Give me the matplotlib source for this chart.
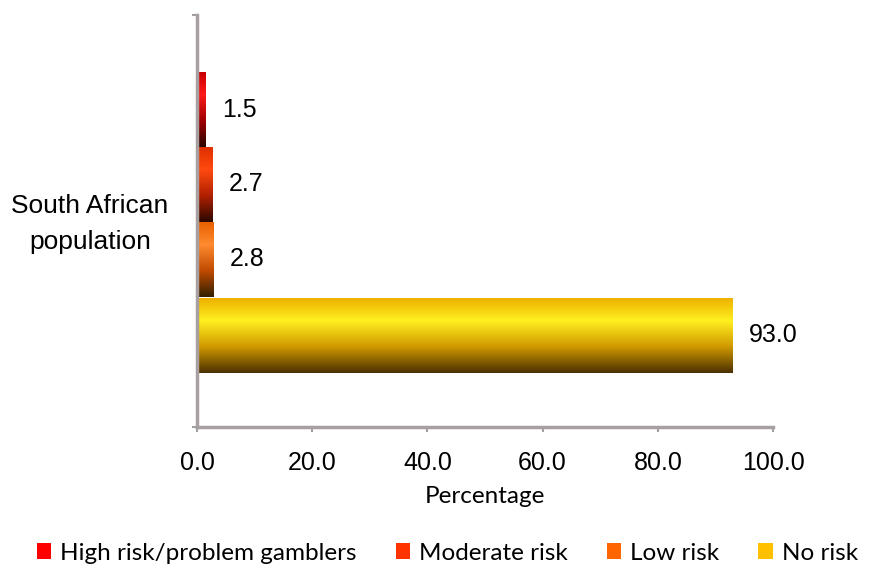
import matplotlib.pyplot as plt
from matplotlib.colors import LinearSegmentedColormap
from matplotlib.patches import Patch
import numpy as np

# data
categories = ['High risk/problem gamblers', 'Moderate risk', 'Low risk', 'No risk']
values = [1.5, 2.7, 2.8, 93.0]
group_label = 'South African\npopulation'
xticks = [0, 20, 40, 60, 80, 100]

# styles
legend_colors = ['#ff0000', '#ff3300', '#ff6600', '#ffc000']
shades = [
    ['#c80000', '#ff1a1a', '#a00000', '#2a0500'],
    ['#e03000', '#ff4a10', '#b02000', '#2a0800'],
    ['#e86000', '#ff8a30', '#c04a00', '#302000'],
    ['#eeb000', '#fff020', '#d09800', '#4a3000'],
]

fig = plt.figure(figsize=(8.72, 5.7), dpi=100)
ax = fig.add_axes([0.2259, 0.2509, 0.6606, 0.7228])

bar_h = 0.182
centers = [0.7706, 0.5886, 0.4066, 0.2230]

# bars get a vertical shading, clipped to each bar
bars = ax.barh(centers, values, height=bar_h, color='none', edgecolor='none')
grad = np.linspace(0, 1, 256).reshape(-1, 1)
for b, stops in zip(bars, shades):
    cmap = LinearSegmentedColormap.from_list('c', list(zip([0, 0.3, 0.65, 1.0], stops)))
    x0, y0 = b.get_x(), b.get_y()
    w, h = b.get_width(), b.get_height()
    im = ax.imshow(grad, cmap=cmap, aspect='auto', origin='upper',
                   extent=[x0, x0 + w, y0, y0 + h], zorder=2)
    im.set_clip_path(b)

for c, v in zip(centers, values):
    ax.annotate(f'{v:.1f}', (v, c), xytext=(12, 0), textcoords='offset points',
                ha='left', va='center', fontsize=18, family='Liberation Sans')

ax.set_xlim(0, 100)
ax.set_ylim(0, 1)
ax.set_xticks(xticks)
ax.set_xticklabels([f'{t:.1f}' for t in xticks], fontsize=18, family='Liberation Sans')
ax.set_yticks([0, 1])
ax.set_yticklabels(['', ''])
ax.tick_params(axis='both', colors='#a0a0a0', length=3.5, width=1.5, labelcolor='black')
ax.tick_params(axis='x', pad=14)

for s in ['top', 'right']:
    ax.spines[s].set_visible(False)
for s in ['left', 'bottom']:
    ax.spines[s].set_color('#a8a0a0')
    ax.spines[s].set_linewidth(2.5)

ax.set_xlabel('Percentage', fontsize=17.5, family='Lato', labelpad=8)

fig.text(90 / 872, 1 - 224 / 570, group_label, ha='center', va='center',
         fontsize=19, family='Liberation Sans', linespacing=1.65)

handles = [Patch(facecolor=c, edgecolor='none') for c in legend_colors]
fig.legend(handles, categories, loc='center', bbox_to_anchor=(0.513, 1 - 553 / 570),
           ncol=4, frameon=False, prop={'family': 'Lato', 'size': 17.5},
           handlelength=0.6, handleheight=0.6, handletextpad=0.37, columnspacing=1.6)

fig.savefig('out.png', dpi=100)
